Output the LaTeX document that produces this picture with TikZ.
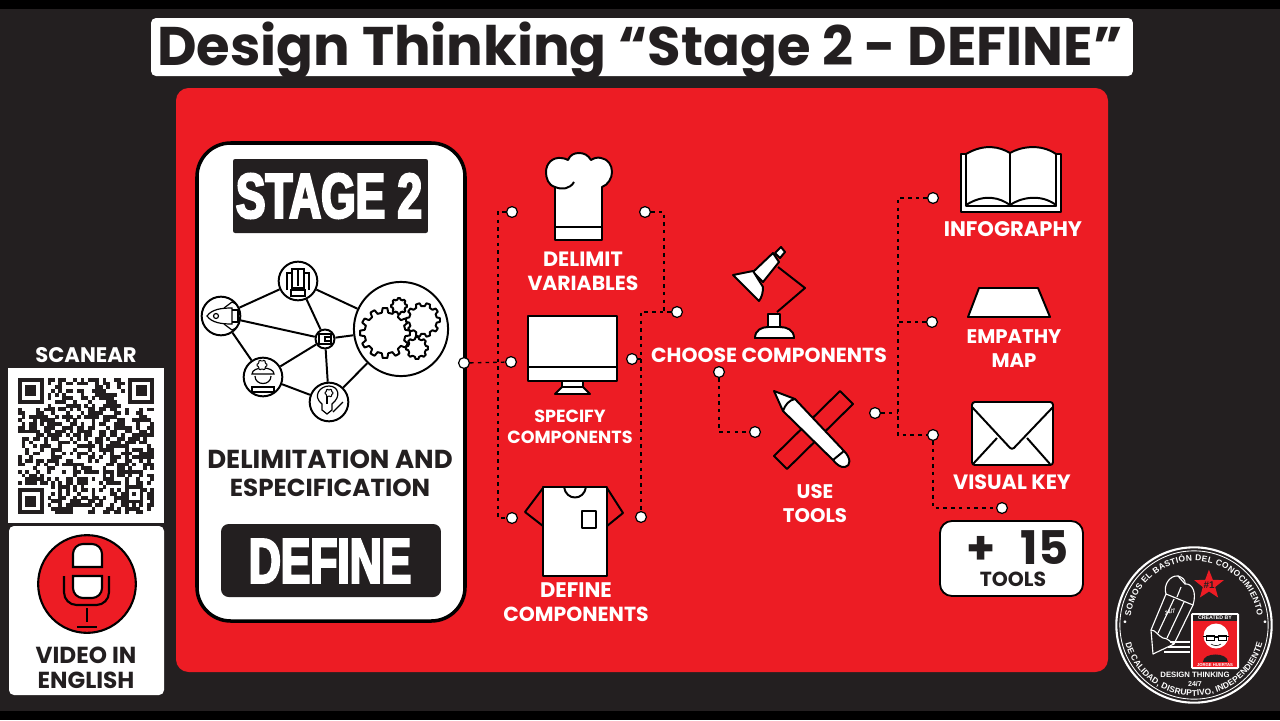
\documentclass[tikz,border=0pt]{standalone}
\usepackage{fontspec}
\usetikzlibrary{decorations.text}
\setmainfont{Poppins}
\newfontfamily\labelfont{Poppins}
\newfontfamily\sealfont{Liberation Sans}
\newfontfamily\blockfont[FakeStretch=0.7,RawFeature={embolden=3.6}]{Liberation Sans}
\definecolor{panelred}{HTML}{ED1C24}
\definecolor{inkblack}{HTML}{231F20}
\newcommand{\px}[1]{\fontsize{#1}{#1}\selectfont}
% toothed wheel at (#1,#2), radius #3, #4 teeth
\newcommand{\cogwheel}[4]{
  \pgfmathsetmacro{\cogstep}{360/#4}
  \draw[iconline,fill=white,shift={(#1,#2)}]
    (0:#3) \foreach \k in {1,...,#4} {
      -- ({(\k-1)*\cogstep+.18*\cogstep}:#3) -- ({(\k-1)*\cogstep+.3*\cogstep}:#3*.82)
      -- ({(\k-1)*\cogstep+.7*\cogstep}:#3*.82) -- ({(\k-1)*\cogstep+.82*\cogstep}:#3)
      -- ({\k*\cogstep}:#3)} -- cycle;
}
\tikzset{
  x=0.05cm,y=-0.05cm,
  dot/.style={circle,draw=black,fill=white,line width=1.7pt,minimum size=15.5pt,inner sep=0pt},
  link/.style={draw=black,line width=1.9pt,dash pattern=on 5pt off 6pt},
  hubring/.style={circle,draw=black,fill=white,line width=2.8pt,inner sep=0pt},
  spoke/.style={draw=black,line width=2.8pt},
  iconline/.style={draw=black,line width=2.8pt,line join=round},
  iconfill/.style={iconline,fill=white},
  redlabel/.style={text=white,font=\labelfont\bfseries,align=center,inner sep=0pt},
  inklabel/.style={text=inkblack,font=\labelfont\bfseries,align=center,inner sep=0pt},
  block/.style={fill=inkblack,text=white,inner sep=0pt},
  sealline/.style={draw=white,line width=1.6pt,line join=round},
  sealtext/.style={text=white,inner sep=0pt},
}
\begin{document}
\begin{tikzpicture}
  \useasboundingbox (0,0) rectangle (1280,720);
  \fill[black] (0,0) rectangle (1280,720);
  \fill[inkblack] (0,9) rectangle (1280,711);

  % title and panel
  \node[fill=white,rounded corners=7pt,minimum width=982*1.4226pt,minimum height=58*1.4226pt,inner sep=0pt] (titlebox) at (642,47) {};
  \node[anchor=base,text=inkblack,font=\px{77.4}\bfseries,inner sep=0pt] (title) at (640,65) {Design Thinking “Stage 2 - DEFINE”};
  \fill[panelred,rounded corners=18pt] (176,88) rectangle (1108,672);

  % stage card
  \draw[draw=black,fill=white,line width=5pt,rounded corners=48pt] (197,143) rectangle (465,621);
  \node[block,rounded corners=3pt,minimum width=195*1.4226pt,minimum height=74*1.4226pt] (stagebox) at (330.5,196) {};
  \node[text=white,font=\px{90}\blockfont\bfseries,inner sep=0pt] (stage) at (329,196) {STAGE 2};
  \node[inklabel,font=\px{37}\labelfont\bfseries] (delim) at (330,459) {DELIMITATION AND};
  \node[inklabel,font=\px{35}\labelfont\bfseries] (espec) at (330,488) {ESPECIFICATION};
  \node[block,rounded corners=11pt,minimum width=220*1.4226pt,minimum height=73*1.4226pt] (definebox) at (331,560.5) {};
  \node[text=white,font=\px{90}\blockfont\bfseries,inner sep=0pt] (define) at (330,561) {DEFINE};

  % small network
  \node[hubring,minimum size=55pt] (rocket) at (221,316) {};
  \node[hubring,minimum size=55pt] (seat) at (298,281) {};
  \node[hubring,minimum size=27pt] (wallet) at (325,339) {};
  \node[hubring,minimum size=134pt] (gears) at (401,329) {};
  \node[hubring,minimum size=55pt] (worker) at (263,377) {};
  \node[hubring,minimum size=55pt] (bulb) at (329,402) {};
  \draw[spoke] (rocket) -- (seat);
  \draw[spoke] (seat) -- (gears);
  \draw[spoke] (rocket) -- (wallet);
  \draw[spoke] (seat) -- (wallet);
  \draw[spoke] (wallet) -- (gears);
  \draw[spoke] (rocket) -- (worker);
  \draw[spoke] (worker) -- (wallet);
  \draw[spoke] (worker) -- (bulb);
  \draw[spoke] (wallet) -- (bulb);
  \draw[spoke] (bulb) -- (gears);
  \cogwheel{385}{333}{25}{12}
  \cogwheel{423}{320}{17}{10}
  \cogwheel{399}{306}{8}{8}
  \cogwheel{417}{348}{11}{8}
  % network glyphs
  \begin{scope}[line width=1.7pt,draw=black]
    \draw (207,316) .. controls (212,309) and (222,308) .. (232,308) -- (232,324) .. controls (222,324) and (212,323) .. (207,316) -- cycle;
    \draw (216,316) circle (2.5);
    \draw (232,310) -- (238,310) -- (238,322) -- (232,322);
    \draw (224,308) -- (232,302) -- (236,304);
    \draw (224,324) -- (232,330) -- (236,328);
    \draw (287,290) -- (287,273) -- (292,273) -- (292,288);
    \draw (292,269) rectangle (304,288);
    \draw (309,290) -- (309,273) -- (304,273);
    \draw (298,269) -- (298,286);
    \draw (291,290) rectangle (305,296);
    \draw (319,334) rectangle (331,344);
    \draw (325,337) rectangle (331,341);
    \draw (252,374) .. controls (252,366) and (274,366) .. (274,374) -- cycle;
    \draw (255,376) .. controls (255,386) and (271,386) .. (271,376);
    \draw (252,392) -- (252,387) -- (274,387) -- (274,392) -- cycle;
    \draw (322,410) -- (322,404) .. controls (312,396) and (320,386) .. (329,386) .. controls (338,386) and (342,396) .. (332,404) -- (332,410) -- (327,414) -- cycle;
    \draw (327,404) -- (327,394);
    \draw (333,412) -- (343,402);
  \end{scope}
  \begin{scope}[iconline/.append style={line width=1.4pt}]
    \cogwheel{262}{365}{5}{6}
    \cogwheel{329}{393}{4}{6}
  \end{scope}

  % connector dots
  \coordinate (busa) at (498,212);
  \coordinate (busb) at (498,518);
  \coordinate (busc) at (664,212);
  \coordinate (busd) at (664,312);
  \coordinate (buse) at (641,312);
  \coordinate (busf) at (641,359);
  \coordinate (busg) at (719,432);
  \coordinate (bush) at (898,198);
  \coordinate (busi) at (898,435);
  \coordinate (busj) at (898,322);
  \coordinate (busk) at (898,413);
  \coordinate (busl) at (933,508);
  \node[dot] (root) at (464,363) {};
  \node[dot] (varleft) at (512,212) {};
  \node[dot] (varright) at (645,212) {};
  \node[dot] (specleft) at (511,362) {};
  \node[dot] (specright) at (632,359) {};
  \node[dot] (defleft) at (512,518) {};
  \node[dot] (defright) at (641,517) {};
  \node[dot] (choosein) at (677,312) {};
  \node[dot] (chooseout) at (719,372) {};
  \node[dot] (toolsin) at (755,432) {};
  \node[dot] (toolsout) at (875,413) {};
  \node[dot] (infodot) at (933,198) {};
  \node[dot] (mapdot) at (932,322) {};
  \node[dot] (keydot) at (933,435) {};
  \node[dot] (moredot) at (1002,508) {};
  \draw[link] (root) -- (specleft);
  \draw[link] (varleft) -- (busa) -- (busb) -- (defleft);
  \draw[link] (varright) -- (busc) -- (busd);
  \draw[link] (choosein) -- (buse) -- (defright);
  \draw[link] (specright) -- (busf);
  \draw[link] (chooseout) -- (busg) -- (toolsin);
  \draw[link] (infodot) -- (bush) -- (busi) -- (keydot);
  \draw[link] (mapdot) -- (busj);
  \draw[link] (toolsout) -- (busk);
  \draw[link] (keydot) -- (busl) -- (moredot);

  % chef hat
  \draw[iconfill] (555,187) .. controls (548,185) and (546,178) .. (546,172) .. controls (546,163) and (553,157) .. (561,158)
    .. controls (564,158) and (566,159) .. (568,160) .. controls (570,155) and (574,153) .. (579,153)
    .. controls (584,153) and (588,155) .. (591,160) .. controls (594,158) and (598,157) .. (601,158)
    .. controls (608,159) and (612,165) .. (612,172) .. controls (612,178) and (608,185) .. (602,187)
    -- (602,240) -- (555,240) -- cycle;
  \draw[iconline] (555,187) .. controls (562,190) and (570,189) .. (574,182);
  \draw[iconline] (555,227) -- (602,227);

  % monitor
  \draw[iconfill] (528,316) rectangle (617,381);
  \draw[iconline] (528,367) -- (617,367);
  \draw[iconfill] (562,381) -- (583,381) -- (583,387) -- (590,394) -- (555,394) -- (562,387) -- cycle;
  \draw[iconline] (562,387) -- (583,387);

  % shirt
  \draw[iconline] (543,488) -- (525,512) -- (543,526);
  \draw[iconline] (607,488) -- (623,513) -- (607,526);
  \draw[iconfill] (543,487) rectangle (607,576);
  \draw[iconline] (564,487) .. controls (566,501) and (584,501) .. (586,487);
  \draw[iconline] (582,511) rectangle (596,528);

  % desk lamp
  \draw[iconline] (777,312) -- (805,288) -- (778,267);
  \draw[iconfill] (768,314) rectangle (780,327);
  \draw[iconfill] (755,338) .. controls (755,330) and (762,327) .. (768,327) -- (780,327) .. controls (787,327) and (794,330) .. (794,338) -- cycle;
  \draw[iconfill] (775,253) -- (781,247) -- (785,252) -- (780,258) -- cycle;
  \draw[iconfill] (753,272) -- (773,253) -- (779,262) -- (763,282) -- cycle;
  \draw[iconfill] (733,275) -- (753,271) -- (763,287) .. controls (763,292) and (762,297) .. (759,301) -- cycle;

  % ruler and pencil
  \draw[iconline] (840,391) -- (853,404) -- (787,469) -- (774,456) -- cycle;
  \draw[iconfill] (774,391) -- (795,399) -- (844,451) .. controls (851,458) and (851,466) .. (845,467) .. controls (841,468) and (836,464) .. (833,460) -- (783,411) -- cycle;
  \draw[iconline] (795,399) .. controls (789,400) and (785,405) .. (783,411);
  \draw[iconline] (844,451) -- (833,460);

  % open book
  \draw[iconfill] (961,154) rectangle (1061,212);
  \draw[iconfill] (966,154) .. controls (985,143) and (1000,147) .. (1010,153) .. controls (1020,147) and (1040,143) .. (1056,154) -- (1056,206) -- (966,206) -- cycle;
  \draw[iconline] (1010,153) -- (1010,206);
  \draw[iconline] (966,205) .. controls (985,193) and (1000,198) .. (1010,205) .. controls (1020,198) and (1040,193) .. (1056,205);

  % map slab
  \draw[iconfill] (979,288) -- (1038,288) -- (1050,317) -- (968,317) -- cycle;

  % envelope
  \draw[iconfill,rounded corners=4pt] (972,402) rectangle (1053,465);
  \draw[iconline,rounded corners=4pt] (972,407) -- (1012,450) -- (1053,407);
  \draw[iconline] (973,464) -- (997,438) (1050,464) -- (1027,438);

  % plus box
  \draw[draw=black,fill=white,line width=2.6pt,rounded corners=17pt] (940,521) rectangle (1083,596);
  \node[inklabel,font=\px{66}\labelfont\bfseries] (plus) at (1017.5,548) {+\hspace{21pt} 15};
  \node[inklabel,font=\px{29}\labelfont\bfseries] (tools) at (1013,579) {TOOLS};

  % red panel labels
  \node[redlabel,font=\px{29.5}\labelfont\bfseries] (varlabela) at (583,259) {DELIMIT};
  \node[redlabel,font=\px{29}\labelfont\bfseries] (varlabelb) at (583,283) {VARIABLES};
  \node[redlabel,font=\px{25}\labelfont\bfseries] (speclabela) at (570,416) {SPECIFY};
  \node[redlabel,font=\px{25}\labelfont\bfseries] (speclabelb) at (570,437) {COMPONENTS};
  \node[redlabel,font=\px{30}\labelfont\bfseries] (deflabela) at (576,590) {DEFINE};
  \node[redlabel,font=\px{29}\labelfont\bfseries] (deflabelb) at (576,614) {COMPONENTS};
  \node[redlabel,font=\px{29}\labelfont\bfseries] (chooselabel) at (769,355) {CHOOSE COMPONENTS};
  \node[redlabel,font=\px{28}\labelfont\bfseries] (toollabela) at (815,492) {USE};
  \node[redlabel,font=\px{28}\labelfont\bfseries] (toollabelb) at (815,516) {TOOLS};
  \node[redlabel,font=\px{30}\labelfont\bfseries] (infolabel) at (1013,229) {INFOGRAPHY};
  \node[redlabel,font=\px{28}\labelfont\bfseries] (maplabela) at (1014,337) {EMPATHY};
  \node[redlabel,font=\px{28}\labelfont\bfseries] (maplabelb) at (1014,361) {MAP};
  \node[redlabel,font=\px{29.5}\labelfont\bfseries] (keylabel) at (1012,482) {VISUAL KEY};

  % scan block
  \node[redlabel,font=\px{30}\labelfont\bfseries] (scan) at (86,355) {SCANEAR};
  \fill[white] (8,368) rectangle (164,523);
  \pgfmathsetseed{27}
  \foreach \col in {0,...,36} {
    \foreach \row in {0,...,36} {
      \pgfmathparse{rnd<0.48 ? 1 : 0}
      \ifnum\pgfmathresult=1
        \fill[inkblack] ({18+\col*3.68},{378+\row*3.68}) rectangle ++(3.8,3.8);
      \fi
    }
  }
  \foreach \qx/\qy in {18/378,128.2/378,18/488.2} {
    \fill[white] (\qx-3.7,\qy-3.7) rectangle ++(33.2,33.2);
    \fill[inkblack] (\qx,\qy) rectangle ++(25.8,25.8);
    \fill[white] (\qx+3.7,\qy+3.7) rectangle ++(18.4,18.4);
    \fill[inkblack] (\qx+7.4,\qy+7.4) rectangle ++(11,11);
  }
  \fill[inkblack] (125,485) rectangle ++(18.4,18.4);
  \fill[white] (128.7,488.7) rectangle ++(11,11);
  \fill[inkblack] (132.4,492.4) rectangle ++(3.7,3.7);

  % microphone block
  \fill[white,rounded corners=7pt] (9,526) rectangle (164,695);
  \node[circle,draw=black,fill=panelred,line width=3pt,minimum size=139pt,inner sep=0pt] (micdisc) at (87,584) {};
  \draw[draw=black,line width=3pt,rounded corners=18pt] (64,576) -- (64,605) -- (109,605) -- (109,576);
  \draw[draw=black,fill=white,line width=3pt] (73,567) -- (73,554) arc[start angle=180,end angle=270,radius=10]
    -- (92,544) arc[start angle=270,end angle=360,radius=10] -- (102,567) -- cycle;
  \draw[draw=black,fill=white,line width=3pt] (73,576) -- (73,588) arc[start angle=180,end angle=90,radius=10]
    -- (92,598) arc[start angle=90,end angle=0,radius=10] -- (102,576) -- cycle;
  \draw[draw=black,line width=2.6pt] (87,608) -- (87,622);
  \draw[draw=black,line width=2.6pt] (77,627) -- (97,627);
  \node[inklabel,font=\px{33}\labelfont\bfseries] (videoa) at (86,655) {VIDEO IN};
  \node[inklabel,font=\px{33}\labelfont\bfseries] (videob) at (86,680) {ENGLISH};

  % seal rings and lettering
  \node[circle,draw=white,line width=3pt,minimum size=221pt,inner sep=0pt] (seal) at (1194,625) {};
  \node[circle,draw=white,line width=1.2pt,minimum size=211pt,inner sep=0pt] (sealinner) at (1194,625) {};
  \path[postaction={decorate,decoration={text along path,text align=fit to path,
      text={|\px{12}\sealfont\bfseries\color{white}|SOMOS EL BASTIÓN DEL CONOCIMIENTO}}}]
    (1194,625) ++(188:64) arc[start angle=188,end angle=352,radius=64];
  \path[postaction={decorate,decoration={text along path,text align=fit to path,
      text={|\px{12}\sealfont\bfseries\color{white}|DE CALIDAD, DISRUPTIVO, INDEPENDIENTE}}}]
    (1194,625) ++(165:71) arc[start angle=165,end angle=15,radius=71];
  \node[sealtext,font=\px{14}\sealfont] (sealdotl) at (1125,623) {•};
  \node[sealtext,font=\px{14}\sealfont] (sealdotr) at (1265,623) {•};

  % seal pencil
  \draw[sealline] (1166,594) -- (1193,605) -- (1174,644) -- (1153,654) -- (1151,630) -- cycle;
  \draw[sealline] (1151,630) .. controls (1156,630) and (1158,636) .. (1163,638) .. controls (1168,638) and (1170,642) .. (1174,644);
  \draw[sealline] (1174,599) -- (1158,633);
  \draw[sealline] (1184,602) -- (1167,638);
  \draw[sealline] (1166,594) .. controls (1163,585) and (1170,575) .. (1178,576) .. controls (1182,577) and (1186,580) .. (1185,584)
    .. controls (1192,583) and (1197,592) .. (1193,605);
  \draw[sealline] (1177,597) -- (1181,587) (1185,584) -- (1178,576);
  \draw[sealline] (1170,642) -- (1190,642) (1168,647) -- (1190,647) (1164,652) -- (1190,652);
  \node[sealtext,rotate=20,font=\px{8}\sealfont\bfseries\itshape] (pencilclock) at (1170,612) {24/7};

  % seal star and portrait card
  \fill[panelred] (1209,570) \foreach \k in {0,...,4} {
      -- ({1209+6.5*cos(306+72*\k)},{585+6.5*sin(306+72*\k)})
      -- ({1209+15.5*cos(342+72*\k)},{585+15.5*sin(342+72*\k)})} -- cycle;
  \node[text=inkblack,font=\px{14}\sealfont\bfseries,inner sep=0pt] (starlabel) at (1209,585) {\#1};
  \fill[white,rounded corners=2pt] (1191,613) rectangle (1239,669);
  \fill[panelred] (1193,615) rectangle (1237,667);
  \fill[inkblack] (1193,615) rectangle (1237,621);
  \node[text=white,font=\px{7.5}\sealfont\bfseries,inner sep=0pt] (cardtop) at (1215,618) {CREATED BY};
  \fill[inkblack] (1203,662) .. controls (1203,652) and (1228,652) .. (1228,662) -- cycle;
  \fill[white] (1216,636) circle (12.5);
  \draw[draw=black,line width=1.2pt,fill=white] (1206,635) rectangle (1214,640) (1218,635) rectangle (1226,640);
  \draw[draw=black,line width=.8pt] (1214,637) -- (1218,637) (1203,636) -- (1229,636);
  \draw[draw=black,line width=.8pt] (1211,644) .. controls (1213,646) and (1219,646) .. (1221,644);
  \node[text=white,font=\px{6}\sealfont\bfseries,inner sep=0pt] (cardfoot) at (1215,665) {JORGE HUERTAS};
  \node[sealtext,font=\px{11}\sealfont\bfseries] (sealnamea) at (1195,675) {DESIGN THINKING};
  \node[sealtext,font=\px{10}\sealfont\bfseries] (sealnameb) at (1195,684) {24/7};
\end{tikzpicture}
\end{document}
